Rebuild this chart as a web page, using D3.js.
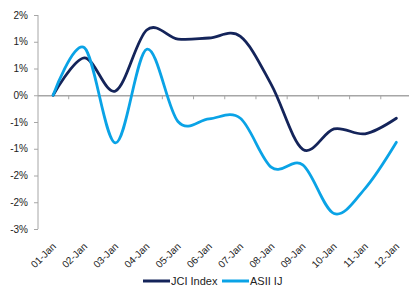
<!DOCTYPE html>
<html><head><meta charset="utf-8">
<script src="https://cdn.jsdelivr.net/npm/d3@7"></script>
<style>body{margin:0;background:#fff}svg{display:block;font-family:"Liberation Sans",Arial,sans-serif}</style>
</head><body>
<script>
const categories = ["01-Jan","02-Jan","03-Jan","04-Jan","05-Jan","06-Jan","07-Jan","08-Jan","09-Jan","10-Jan","11-Jan","12-Jan"];
const jci  = [0, 0.70, 0.08, 1.22, 1.05, 1.07, 1.10, 0.19, -1.01, -0.63, -0.72, -0.43];
const asii = [0, 0.89, -0.89, 0.86, -0.49, -0.44, -0.43, -1.35, -1.30, -2.21, -1.74, -0.88];
const yTicks = [1.5, 1.0, 0.5, 0, -0.5, -1.0, -1.5, -2.0, -2.5];
const yTickLabels = ["2%","1%","1%","0%","-1%","-1%","-2%","-2%","-3%"];
const seriesNames = ["JCI Index","ASII IJ"];
const colors = ["#14245a","#0aa3e6"];

const W = 409, H = 291;
const svg = d3.select("body").append("svg").attr("width", W).attr("height", H);

const x = d3.scaleBand().domain(categories).range([37.5, 412]);
const y = d3.scaleLinear().domain([-2.5, 1.5]).range([229, 15]);

// y axis
const yAxis = d3.axisLeft(y).tickValues(yTicks).tickSize(4).tickPadding(6)
  .tickFormat((d,i) => yTickLabels[i]);
const gy = svg.append("g").attr("transform", "translate(38,0)").call(yAxis);
gy.select(".domain").attr("stroke", "#a6a6a6").attr("d", `M0,${y(1.5)}V${y(-2.5)}`);
gy.selectAll(".tick line").attr("stroke", "#a6a6a6");
gy.selectAll(".tick text").attr("font-size", 10).attr("fill", "#222");

// zero line with category ticks
const xAxis = d3.axisBottom(x).tickSize(0).tickFormat("");
const gx = svg.append("g").attr("transform", `translate(0,${y(0)})`).call(xAxis);
gx.select(".domain").attr("stroke", "#a6a6a6").attr("stroke-width", 1.3);
gx.selectAll(".tick").remove();
categories.forEach((c, i) => {
  if (i === 0) return;
  svg.append("line").attr("x1", x(c)).attr("x2", x(c))
    .attr("y1", y(0)).attr("y2", y(0) + 4).attr("stroke", "#a6a6a6");
});

// x labels (rotated)
svg.append("g").selectAll("text").data(categories).join("text")
  .attr("transform", d => `translate(${x(d) + x.bandwidth()/2 + 3.5},${247}) rotate(-45)`)
  .attr("text-anchor", "end").attr("font-size", 10).attr("fill", "#222")
  .text(d => d);

// lines
const line = d3.line()
  .x((d, i) => x(categories[i]) + x.bandwidth()/2)
  .y(d => y(d))
  .curve(d3.curveCardinal.tension(0));
[jci, asii].forEach((s, k) => {
  svg.append("path").datum(s).attr("d", line)
    .attr("fill", "none").attr("stroke", colors[k]).attr("stroke-width", 2.8)
    .attr("stroke-linecap", "round");
});

// legend
const lg = svg.append("g").attr("transform", "translate(0,281)");
const legendX = [143, 222];
seriesNames.forEach((n, k) => {
  lg.append("line").attr("x1", legendX[k]).attr("x2", legendX[k] + 27)
    .attr("y1", 0).attr("y2", 0).attr("stroke", colors[k]).attr("stroke-width", 3);
  lg.append("text").attr("x", legendX[k] + 28).attr("y", 4)
    .attr("font-size", 11).attr("fill", "#222").text(n);
});
</script>
</body></html>
